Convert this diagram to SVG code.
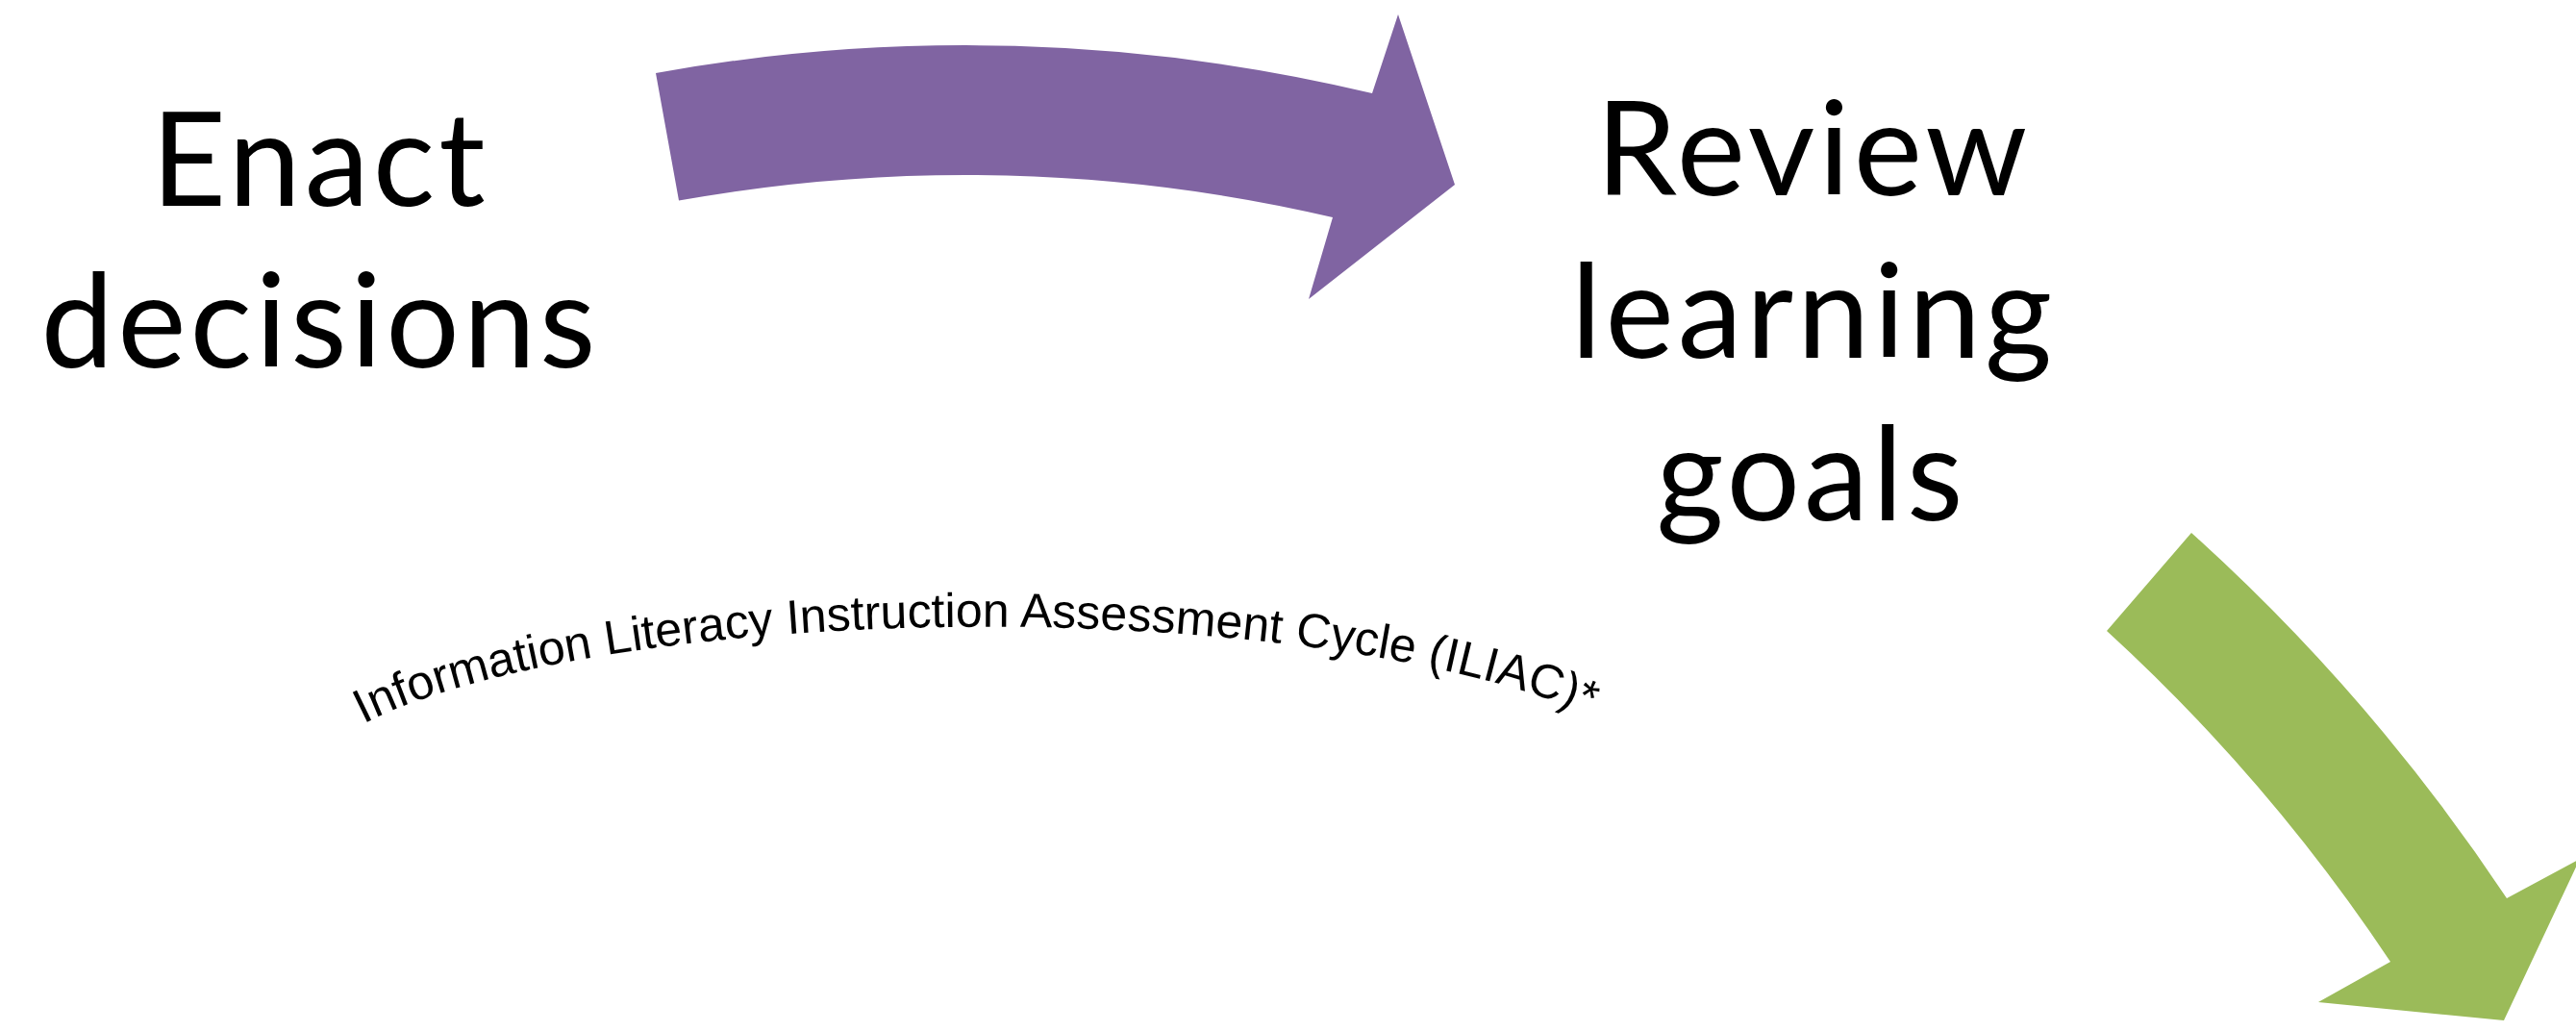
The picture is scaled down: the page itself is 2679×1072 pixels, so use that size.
<svg xmlns="http://www.w3.org/2000/svg" width="2679" height="1072" viewBox="0 0 2679 1072">
  <style>
    .label { font-family: Lato, "Open Sans", "Noto Sans", sans-serif; font-size: 135px; letter-spacing: 4px; fill: #000000; text-anchor: middle; }
    .cycle-title { font-family: "Liberation Sans", Arial, sans-serif; font-size: 50px; fill: #000000; }
    .arrow-purple { fill: #8064A2; }
    .arrow-green { fill: #9BBB59; }
  </style>
  <defs>
    <!-- elliptical arch that carries the cycle title -->
    <path id="title-arch" d="M378,752.6 A720,180 0 0 1 1712,778" fill="none"/>
  </defs>

  <rect width="2679" height="1072" fill="#ffffff"/>

  <!-- curved block arrows of the cycle -->
  <g id="connectors">
    <path id="arrow-enact-to-review" class="arrow-purple"
          d="M682,76 A1815,1815 0 0 1 1427,97 L1454,15 L1513,192 L1361,311 L1386,226 A1680,1680 0 0 0 706,208.6 Z"/>
    <path id="arrow-review-onward" class="arrow-green"
          d="M2279,554 A2005,2005 0 0 1 2607,934 L2683,893 L2604,1061 L2411,1042 L2486,1000 A1870,1870 0 0 0 2191,656 Z"/>
  </g>

  <g id="enact-decisions">
    <text class="label" x="333" y="214">Enact</text>
    <text class="label" x="333" y="382">decisions</text>
  </g>

  <g id="review-learning-goals">
    <text class="label" x="1886" y="203">Review</text>
    <text class="label" x="1886" y="372">learning</text>
    <text class="label" x="1884" y="541">goals</text>
  </g>

  <g id="cycle-title">
    <text class="cycle-title"><textPath href="#title-arch">Information Literacy Instruction Assessment Cycle (ILIAC)*</textPath></text>
  </g>
</svg>
